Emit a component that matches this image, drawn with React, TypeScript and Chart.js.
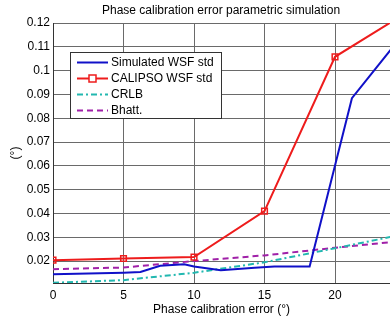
import React, { useEffect, useRef } from "react";
import { Chart, registerables } from "chart.js";

Chart.register(...registerables);

const TITLE = "Phase calibration error parametric simulation";
const X_LABEL = "Phase calibration error (°)";
const Y_LABEL = "(°)";
const X_TICKS = [0, 5, 10, 15, 20];
const Y_TICKS = [0.02, 0.03, 0.04, 0.05, 0.06, 0.07, 0.08, 0.09, 0.1, 0.11, 0.12];

const SIM_NAME = "Simulated WSF std";
const SIM_X = [0, 5, 6.2, 7.6, 9.3, 10, 11.9, 14.3, 15.7, 18.2, 21.2, 25];
const SIM_Y = [0.0145, 0.0151, 0.0154, 0.018, 0.0187, 0.0177, 0.0162, 0.0172, 0.0177, 0.0177, 0.0884, 0.1165];

const CAL_NAME = "CALIPSO WSF std";
const CAL_X = [0, 5, 10, 15, 20, 25];
const CAL_Y = [0.0204, 0.0211, 0.0217, 0.041, 0.1058, 0.1241];

const CRLB_NAME = "CRLB";
const CRLB_X = [0, 5, 10, 15, 20, 25];
const CRLB_Y = [0.0109, 0.012, 0.0151, 0.0195, 0.0254, 0.0314];

const BHATT_NAME = "Bhatt.";
const BHATT_X = [0, 5, 10, 15, 20, 25];
const BHATT_Y = [0.0166, 0.0173, 0.02, 0.0224, 0.0256, 0.0286];

const FONT = "'Liberation Sans', Arial, sans-serif";

const pts = (xs: number[], ys: number[]) => xs.map((x, i) => ({ x, y: ys[i] }));

const SERIES = [
  { name: SIM_NAME, color: "#1010c8", dash: [] as number[], marker: false, data: pts(SIM_X, SIM_Y) },
  { name: CAL_NAME, color: "#ee1c1c", dash: [] as number[], marker: true, data: pts(CAL_X, CAL_Y) },
  { name: CRLB_NAME, color: "#22b8b0", dash: [6, 3, 2, 3], marker: false, data: pts(CRLB_X, CRLB_Y) },
  { name: BHATT_NAME, color: "#a020a8", dash: [6, 4], marker: false, data: pts(BHATT_X, BHATT_Y) },
];

const overlayPlugin = {
  id: "overlay",
  afterDraw(chart: any) {
    const ctx = chart.ctx as CanvasRenderingContext2D;
    ctx.save();
    // title
    ctx.font = `12px ${FONT}`;
    ctx.fillStyle = "#000";
    ctx.textAlign = "center";
    ctx.textBaseline = "middle";
    ctx.fillText(TITLE, 221, 10.5);

    // legend
    const bx = 70.5, by = 52.5, bw = 151, bh = 66;
    ctx.fillStyle = "#fff";
    ctx.fillRect(bx, by, bw, bh);
    ctx.strokeStyle = "#333";
    ctx.lineWidth = 1;
    ctx.strokeRect(bx, by, bw, bh);
    SERIES.forEach((s, i) => {
      const y = 62.5 + i * 16;
      ctx.strokeStyle = s.color;
      ctx.lineWidth = 2;
      ctx.setLineDash(s.dash);
      ctx.beginPath();
      ctx.moveTo(77, y);
      ctx.lineTo(108, y);
      ctx.stroke();
      ctx.setLineDash([]);
      if (s.marker) {
        ctx.lineWidth = 1.5;
        ctx.fillStyle = "#fff";
        ctx.fillRect(89, y - 3.5, 7, 7);
        ctx.strokeRect(89, y - 3.5, 7, 7);
      }
      ctx.fillStyle = "#000";
      ctx.textAlign = "left";
      ctx.textBaseline = "middle";
      ctx.font = `12px ${FONT}`;
      ctx.fillText(s.name, 111, y + 0.5);
    });
    ctx.restore();
  },
};

export default function App() {
  const ref = useRef<HTMLCanvasElement | null>(null);
  useEffect(() => {
    if (!ref.current) return;
    const chart = new Chart(ref.current, {
      type: "line",
      data: {
        datasets: SERIES.map((s) => ({
          label: s.name,
          data: s.data,
          borderColor: s.color,
          backgroundColor: "rgba(0,0,0,0)",
          borderWidth: 2,
          borderDash: s.dash,
          pointRadius: s.marker ? 4 : 0,
          pointStyle: "rect",
          pointBorderColor: s.color,
          pointBackgroundColor: "rgba(255,255,255,0)",
          pointBorderWidth: 1.5,
          tension: 0,
          fill: false,
        })),
      },
      options: {
        animation: false,
        responsive: false,
        maintainAspectRatio: false,
        layout: { autoPadding: false, padding: { top: 23, right: 0, left: 0, bottom: 0 } },
        plugins: {
          legend: { display: false },
          title: { display: false },
          tooltip: { enabled: false },
        },
        scales: {
          x: {
            type: "linear",
            min: 0,
            max: 23.9,
            afterBuildTicks: (axis: any) => {
              axis.ticks = X_TICKS.map((v) => ({ value: v }));
            },
            afterFit: (scale: any) => {
              scale.height = 39;
              scale.paddingRight = 0;
              scale.paddingLeft = 0;
            },
            grid: { color: "#6a6a6a", lineWidth: 1, drawTicks: false },
            border: { display: true, color: "#333", width: 1 },
            ticks: {
              padding: 5,
              color: "#000",
              font: { family: FONT, size: 12 },
              maxRotation: 0,
              autoSkip: false,
            },
            title: {
              display: true,
              text: X_LABEL,
              color: "#000",
              font: { family: FONT, size: 12 },
              padding: { top: 0, bottom: 5 },
            },
          },
          y: {
            type: "linear",
            min: 0.0108,
            max: 0.12,
            afterBuildTicks: (axis: any) => {
              axis.ticks = Y_TICKS.map((v) => ({ value: v }));
            },
            afterFit: (scale: any) => {
              scale.width = 53;
              scale.paddingTop = 0;
              scale.paddingBottom = 0;
            },
            grid: { color: "#6a6a6a", lineWidth: 1, drawTicks: false },
            border: { display: true, color: "#333", width: 1 },
            ticks: {
              padding: 3,
              color: "#000",
              font: { family: FONT, size: 12 },
              autoSkip: false,
              callback: (v: any) => String(Math.round(Number(v) * 100) / 100),
            },
            title: {
              display: true,
              text: Y_LABEL,
              color: "#000",
              font: { family: FONT, size: 12 },
              padding: { top: 8, bottom: 0 },
            },
          },
        },
      },
      plugins: [overlayPlugin],
    });
    return () => chart.destroy();
  }, []);
  return (
    <div style={{ position: "fixed", left: 0, top: 0, width: 390, height: 322, background: "#fff" }}>
      <canvas ref={ref} width={390} height={322} style={{ width: 390, height: 322, display: "block" }} />
    </div>
  );
}
